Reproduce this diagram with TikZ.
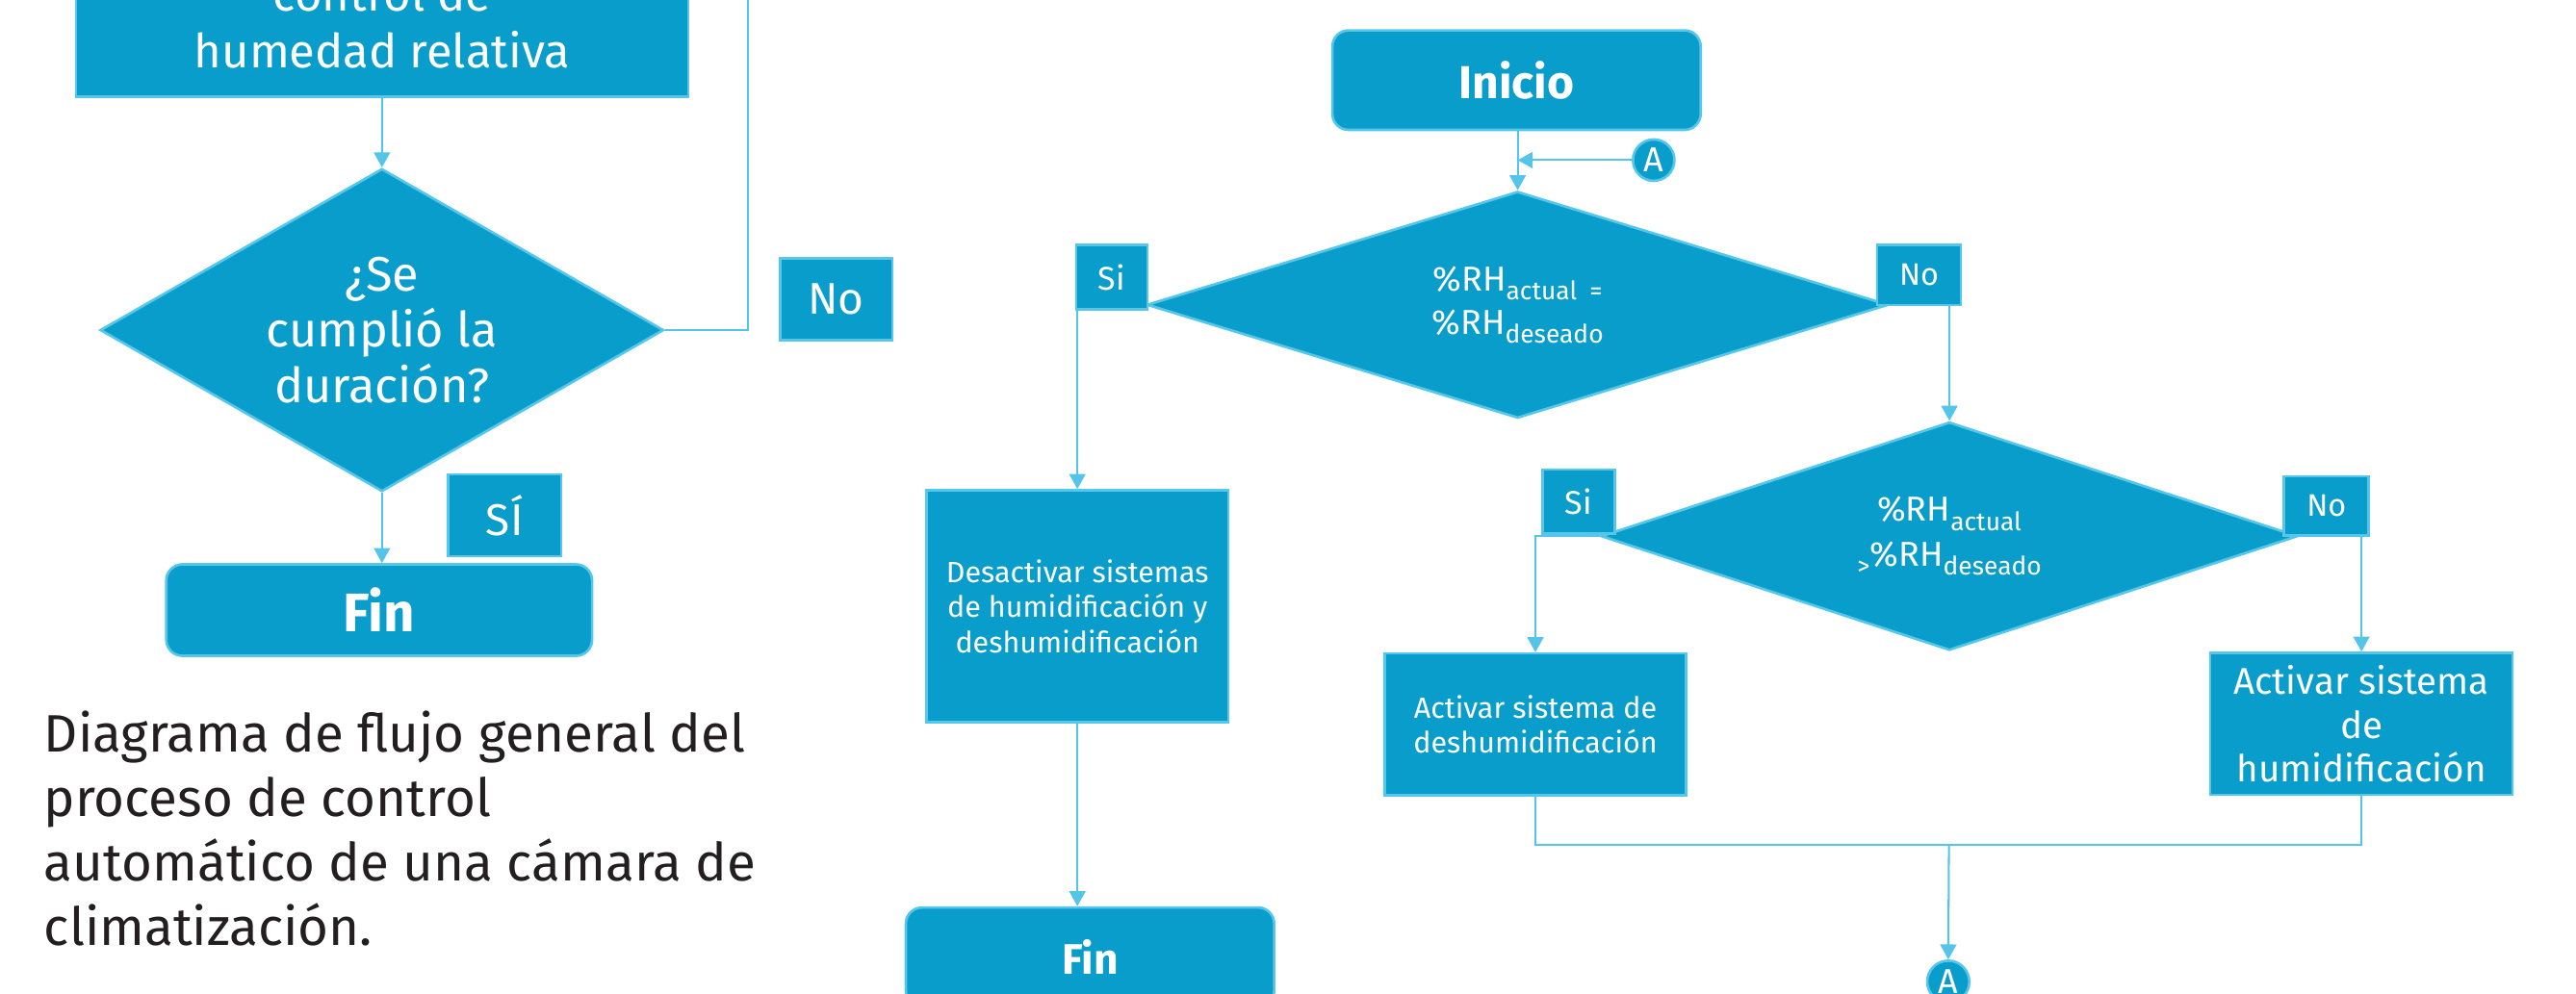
\documentclass[tikz,border=0pt]{standalone}
\usepackage{fontspec}
\setmainfont{Fira Sans}
\usetikzlibrary{shapes.geometric,arrows.meta}
\newdimen\upx \upx=0.025cm
\definecolor{boxfill}{RGB}{9,157,204}
\definecolor{boxline}{RGB}{86,198,234}
\definecolor{connc}{RGB}{84,196,232}
\definecolor{captxt}{RGB}{35,31,32}
\newcommand\fsz[2]{\fontsize{#1}{#2}\selectfont}
\newcommand\sbs[1]{\raisebox{-3.9pt}{\fsz{11}{11}#1}}
\pgfdeclarelayer{bg}
\pgfsetlayers{bg,main}
\begin{document}
\begin{tikzpicture}[x=0.025cm,y=-0.025cm,
  blk/.style={draw=boxline, fill=boxfill, line width=1.1pt, text=white, inner sep=0pt, align=center},
  sz/.style 2 args={minimum width=#1\upx, minimum height=#2\upx},
  rbox/.style={blk, rounded corners=7pt},
  dia/.style={blk, diamond},
  conn/.style={draw=connc, line width=0.85pt},
  arr/.style={conn, -{Triangle[width=7pt,length=6.5pt]}},
  connA/.style={circle, draw=boxline, fill=boxfill, line width=1.1pt, text=white, inner sep=0pt},
  captext/.style={anchor=base west, inner sep=0pt, text=captxt, font=\fsz{22.8}{28}}
]
\useasboundingbox (0,0) rectangle (1568,605);
\clip (0,0) rectangle (1568,605);

% ---------- left part ----------
\node[blk, sz={372.8}{90.6}, font=\fsz{20.4}{24.9}] (p1) at (232.6,13.5) {control de\\humedad relativa};
\node[dia, aspect=1.745, sz={343}{196.6}, font=\fsz{21}{24.2}] (d1) at (232.5,201) {¿Se\\cumplió la\\duración?};
\node[blk, sz={68.5}{49.9}, font=\fsz{19.2}{23}] (noL) at (509,182.3) {No};
\node[blk, sz={68.9}{49.9}, font=\fsz{19.2}{23}] (siL) at (307.2,313.8) {SÍ};
\node[rbox, sz={259.2}{55.7}, font=\bfseries\fsz{23.5}{28}] (finL) at (230.8,371.5) {Fin};
\coordinate (loopTop) at (455.2,-40);

\node[captext] (cap1) at (26.6,458) {Diagrama de flujo general del};
\node[captext] (cap2) at (26.6,497) {proceso de control};
\node[captext] (cap3) at (26.6,536.2) {automático de una cámara de};
\node[captext] (cap4) at (26.6,575.6) {climatización.};

% ---------- right part ----------
\node[rbox, sz={224.2}{60.6}, font=\bfseries\fsz{20}{24}] (ini) at (923.1,48.8) {Inicio};
\node[dia, aspect=3.27, sz={451.4}{138}, font=\fsz{15}{18.85}] (d2) at (923.8,185.6)
  {\%RH\sbs{actual\hspace{0.5em}=}\\\%RH\sbs{deseado}};
\node[connA, minimum size=25.2\upx, font=\fsz{15}{15}] (a1) at (1006.6,97.5) {A};
\node[blk, sz={43.5}{39.5}, font=\fsz{14.2}{17}] (si2) at (676.8,168.8) {Si};
\node[blk, sz={51}{36.7}, font=\fsz{13.5}{16}] (no2) at (1168.1,167.4) {No};

\node[dia, aspect=3.05, sz={424}{139}, font=\fsz{15}{19.4}] (d3) at (1186.6,326.5)
  {\%RH\sbs{actual}\\\sbs{>}\%RH\sbs{deseado}};
\node[blk, sz={44}{39}, font=\fsz{14.2}{17}] (si3) at (961,305.5) {Si};
\node[blk, sz={51.6}{36.2}, font=\fsz{13.5}{16}] (no3) at (1416.1,308.1) {No};

\node[blk, sz={183.6}{141.3}, font=\fsz{12.7}{15.1}] (des) at (655.8,369.2)
  {Desactivar sistemas\\de humidificación y\\deshumidificación};
\node[blk, sz={183.3}{86.5}, font=\fsz{12.7}{15}] (desh) at (934.6,441.2)
  {Activar sistema de\\deshumidificación};
\node[blk, sz={184}{86.5}, font=\fsz{16.1}{19.1}] (hum) at (1437.4,440.8)
  {Activar sistema\\de\\humidificación};
\node[rbox, sz={224.2}{60.6}, font=\bfseries\fsz{18.5}{22}] (fin2) at (663.5,582.9) {Fin};
\node[connA, minimum size=25.6\upx, font=\fsz{15}{15}] (a2) at (1185.9,597.8) {A};
\coordinate (j) at (1186.3,514.5);

% ---------- connectors ----------
\begin{pgfonlayer}{bg}
\draw[arr] (p1.south) -- (d1.north);
\draw[conn] (d1.east) -| (loopTop);
\draw[arr] (d1.south) -- (d1.south |- finL.north);

\draw[arr] (d2.north |- ini.south) -- (d2.north);
\draw[arr] (a1.west) -- (a1.west -| d2.north);
\draw[arr] (d2.west) -| (des.north);
\draw[arr] (d2.east) -| (d3.north);
\draw[arr] (d3.west) -| (desh.north);
\draw[arr] (d3.east) -| (hum.north);
\draw[arr] (des.south) -- (des.south |- fin2.north);
\draw[conn] (desh.south) |- (j) -| (hum.south);
\draw[arr] (j) -- (a2.north);
\end{pgfonlayer}
\end{tikzpicture}
\end{document}
